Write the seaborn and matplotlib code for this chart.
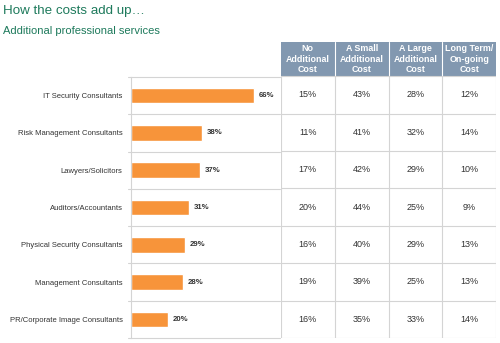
import matplotlib
matplotlib.use("Agg")
import matplotlib.pyplot as plt
import seaborn as sns
import pandas as pd

categories = ["IT Security Consultants", "Risk Management Consultants", "Lawyers/Solicitors",
              "Auditors/Accountants", "Physical Security Consultants", "Management Consultants",
              "PR/Corporate Image Consultants"]
usage = [66, 38, 37, 31, 29, 28, 20]
col_headers = ["No\nAdditional\nCost", "A Small\nAdditional\nCost", "A Large\nAdditional\nCost",
               "Long Term/\nOn-going\nCost"]
no_cost = [15, 11, 17, 20, 16, 19, 16]
small_cost = [43, 41, 42, 44, 40, 39, 35]
large_cost = [28, 32, 29, 25, 29, 25, 33]
long_term = [12, 14, 10, 9, 13, 13, 14]

sns.set_theme(style="white")
plt.rcParams['font.family'] = ['Liberation Sans', 'DejaVu Sans']

W, H = 500, 343
fig = plt.figure(figsize=(5, 3.43), dpi=100)
fig.patch.set_facecolor("white")

green = "#1e7a5c"
orange = "#f7943a"
header_bg = "#8298b0"
grid = "#d4d4d4"

fig.text(3 / W, 1 - 11 / H, "How the costs add up\u2026", color=green, fontsize=9.6, va="center", ha="left")
fig.text(3 / W, 1 - 31 / H, "Additional professional services", color=green, fontsize=8, va="center", ha="left")

# bar axes
x0, x1, y0, y1 = 131, 280, 77, 338
ax = fig.add_axes([x0 / W, 1 - y1 / H, (x1 - x0) / W, (y1 - y0) / H])
df = pd.DataFrame({"cat": categories, "val": usage})
sns.barplot(data=df, y="cat", x="val", ax=ax, color=orange, saturation=1, width=0.42, orient="h")
ax.set_xlim(0, 80)
ax.set_ylim(len(categories) - 0.5, -0.5)
ax.set_xlabel("")
ax.set_ylabel("")
ax.set_xticks([])
ax.tick_params(axis="y", length=0, labelsize=5.5, colors="#333333", pad=6)
for s in ["top", "right", "bottom"]:
    ax.spines[s].set_visible(False)
ax.spines["left"].set_color(grid)
ax.spines["left"].set_linewidth(0.8)
for i in range(len(categories) + 1):
    ax.plot([-0.02, 1.0], [i - 0.5, i - 0.5], transform=ax.get_yaxis_transform(),
            color=grid, lw=0.8, clip_on=False)
for i, v in enumerate(usage):
    ax.text(v + 2.5, i, f"{v}%", va="center", ha="left", fontsize=5.6, fontweight="bold", color="#333333")

# table axes
tx0, tx1, ty0, ty1 = 281, 496, 42, 338
tax = fig.add_axes([tx0 / W, 1 - ty1 / H, (tx1 - tx0) / W, (ty1 - ty0) / H])
hdr_h = 34 / ((y1 - y0) / 7)
tax.set_xlim(0, 4)
tax.set_ylim(len(categories) - 0.5, -0.5 - hdr_h)
tax.axis("off")
tax.axhspan(-0.5 - hdr_h, -0.5, color=header_bg, lw=0)
for j in range(1, 4):
    tax.plot([j, j], [-0.5 - hdr_h, -0.5], color="white", lw=0.8)
for j, h in enumerate(col_headers):
    tax.text(j + 0.5, -0.5 - hdr_h / 2, h, ha="center", va="center", color="white",
             fontsize=6.4, fontweight="bold", linespacing=1.2)
cols = [no_cost, small_cost, large_cost, long_term]
for i in range(len(categories) + 1):
    tax.plot([0, 4], [i - 0.5, i - 0.5], color=grid, lw=0.8)
for j in range(5):
    tax.plot([j, j], [-0.5, len(categories) - 0.5], color=grid, lw=0.8)
for j, col in enumerate(cols):
    for i, v in enumerate(col):
        tax.text(j + 0.5, i, f"{v}%", ha="center", va="center", fontsize=6.5, color="#333333")

fig.savefig("out.png", dpi=100)
